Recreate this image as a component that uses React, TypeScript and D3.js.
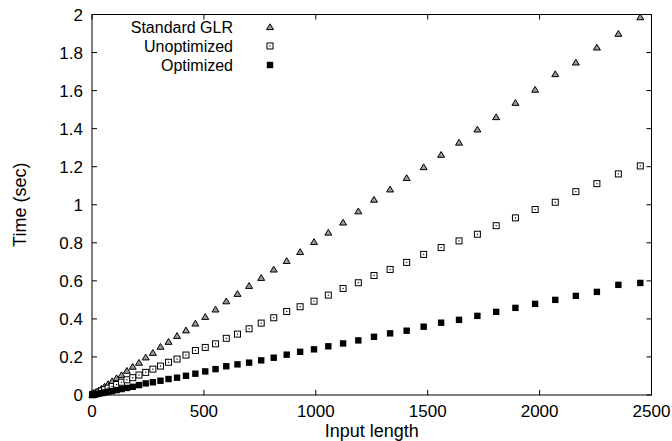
import React from 'react';
import { scaleLinear, range } from 'd3';

const inputLength = [
  2, 6, 12, 20, 30, 42, 56, 72, 90, 110, 132, 156, 182, 210, 240, 272, 306,
  342, 380, 420, 462, 506, 552, 600, 650, 702, 756, 812, 870, 930, 992, 1056,
  1122, 1190, 1260, 1332, 1406, 1482, 1560, 1640, 1722, 1806, 1892, 1980,
  2070, 2162, 2256, 2352, 2450,
];

const standardGLR = [
  0.002, 0.005, 0.01, 0.016, 0.024, 0.034, 0.045, 0.058, 0.073, 0.089, 0.105,
  0.128, 0.149, 0.17, 0.198, 0.222, 0.254, 0.28, 0.311, 0.34, 0.376, 0.411,
  0.45, 0.493, 0.532, 0.574, 0.616, 0.66, 0.705, 0.752, 0.805, 0.854, 0.907,
  0.966, 1.027, 1.081, 1.141, 1.198, 1.263, 1.327, 1.396, 1.461, 1.536, 1.605,
  1.687, 1.748, 1.827, 1.899, 1.986,
];

const unoptimized = [
  0.001, 0.003, 0.006, 0.01, 0.015, 0.021, 0.028, 0.036, 0.045, 0.055, 0.067,
  0.08, 0.091, 0.105, 0.119, 0.136, 0.152, 0.172, 0.189, 0.21, 0.234, 0.25,
  0.269, 0.298, 0.32, 0.348, 0.378, 0.406, 0.439, 0.464, 0.493, 0.525, 0.56,
  0.59, 0.628, 0.66, 0.697, 0.739, 0.775, 0.81, 0.845, 0.89, 0.931, 0.975,
  1.013, 1.069, 1.111, 1.162, 1.204,
];

const optimized = [
  0.001, 0.002, 0.003, 0.005, 0.007, 0.01, 0.013, 0.017, 0.021, 0.026, 0.031,
  0.037, 0.043, 0.052, 0.061, 0.067, 0.075, 0.084, 0.091, 0.101, 0.112, 0.124,
  0.136, 0.151, 0.161, 0.17, 0.182, 0.196, 0.212, 0.227, 0.24, 0.256, 0.271,
  0.287, 0.306, 0.324, 0.338, 0.359, 0.38, 0.395, 0.416, 0.437, 0.458, 0.479,
  0.5, 0.521, 0.542, 0.579, 0.589,
];

const xTicks = [0, 500, 1000, 1500, 2000, 2500];
const yTicks = range(0, 11).map(i => i * 0.2);

const seriesNames = ['Standard GLR', 'Unoptimized', 'Optimized'];

const font = "'Liberation Sans', Arial, Helvetica, sans-serif";

const Triangle = ({ x, y }: { x: number; y: number }) => (
  <path
    d={`M${x},${y - 3.2} L${x + 3.5},${y + 2.6} L${x - 3.5},${y + 2.6} Z`}
    fill="#999"
    stroke="#000"
    strokeWidth={1}
  />
);

const OpenSquare = ({ x, y }: { x: number; y: number }) => (
  <g>
    <rect x={x - 3} y={y - 3} width={6} height={6} fill="#fff" stroke="#000" strokeWidth={1} />
    <rect x={x - 0.6} y={y - 0.6} width={1.2} height={1.2} fill="#000" />
  </g>
);

const FilledSquare = ({ x, y }: { x: number; y: number }) => (
  <rect x={x - 3.2} y={y - 3.2} width={6.4} height={6.4} fill="#000" />
);

const markers = [Triangle, OpenSquare, FilledSquare];

export default function App() {
  const width = 672;
  const height = 441;
  const left = 92;
  const right = 651.5;
  const top = 14.5;
  const bottom = 395;

  const x = scaleLinear().domain([0, 2500]).range([left, right]);
  const y = scaleLinear().domain([0, 2]).range([bottom, top]);

  const allSeries = [standardGLR, unoptimized, optimized];

  return (
    <svg
      width={width}
      height={height}
      style={{ position: 'absolute', left: 0, top: 0, background: '#fff' }}
      fontFamily={font}
    >
      {/* ticks */}
      {xTicks.map(t => (
        <g key={'x' + t}>
          <line x1={x(t)} x2={x(t)} y1={bottom} y2={bottom - 5} stroke="#000" />
          <line x1={x(t)} x2={x(t)} y1={top} y2={top + 5} stroke="#000" />
          <text x={x(t)} y={bottom + 22} fontSize={17} textAnchor="middle">{t}</text>
        </g>
      ))}
      {yTicks.map(t => (
        <g key={'y' + t}>
          <line x1={left} x2={left + 5} y1={y(t)} y2={y(t)} stroke="#000" />
          <line x1={right} x2={right - 5} y1={y(t)} y2={y(t)} stroke="#000" />
          <text x={left - 9} y={y(t) + 6} fontSize={17} textAnchor="end">
            {Math.round(t * 10) / 10}
          </text>
        </g>
      ))}
      <rect x={left} y={top} width={right - left} height={bottom - top} fill="none" stroke="#000" strokeWidth={1} />

      {/* axis titles */}
      <text x={(left + right) / 2} y={437} fontSize={18} textAnchor="middle">Input length</text>
      <text
        transform={`translate(26, ${(top + bottom) / 2}) rotate(-90)`}
        fontSize={18}
        textAnchor="middle"
      >
        Time (sec)
      </text>

      {/* points */}
      {allSeries.map((vals, si) => {
        const M = markers[si];
        return (
          <g key={si}>
            {vals.map((v, i) => (
              <M key={i} x={x(inputLength[i])} y={y(v)} />
            ))}
          </g>
        );
      })}

      {/* legend */}
      {seriesNames.map((name, i) => {
        const M = markers[i];
        const ly = 27 + i * 19;
        return (
          <g key={name}>
            <text x={233} y={ly + 6} fontSize={16} textAnchor="end">{name}</text>
            <M x={270} y={ly} />
          </g>
        );
      })}
    </svg>
  );
}
